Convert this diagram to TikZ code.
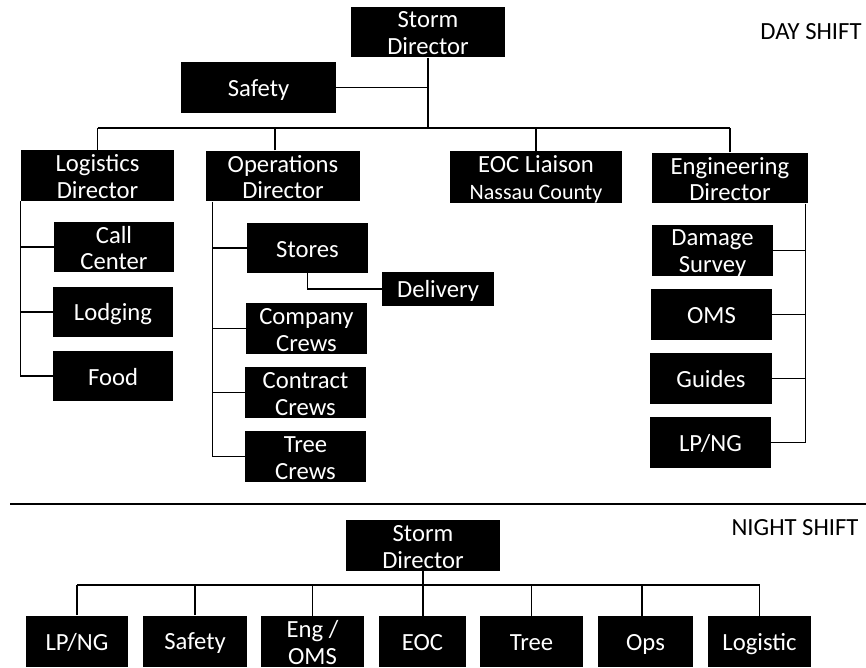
\documentclass[tikz,border=0pt]{standalone}
\usepackage{fontspec}
\setmainfont{Carlito}
\newcommand\bts{\rule{0pt}{16pt}}
\newcommand\bbs{\rule[-2pt]{0pt}{2pt}}
\begin{document}
\begin{tikzpicture}[x=0.75pt,y=-0.75pt,
  orgbox/.style={fill=black,text=white,inner sep=0pt,align=center,
    font=\fontsize{18.5}{20}\selectfont},
  wh/.style 2 args={minimum width=#1*0.75pt,minimum height=#2*0.75pt},
  conn/.style={draw=black,line width=1pt},
  shiftlbl/.style={inner sep=0pt,font=\fontsize{18.5}{20}\selectfont}]
\useasboundingbox (0,0) rectangle (866,667);
% ---------------- DAY SHIFT ----------------
\node[orgbox,wh={154}{50}] (sd) at (428,32) {\bts Storm\\Director\bbs};
\node[orgbox,wh={155}{51}] (safety) at (258.5,87.5) {\bts Safety\bbs};
\node[orgbox,wh={153}{51}] (log) at (97.5,175.5) {\bts Logistics\\Director\bbs};
\node[orgbox,wh={154}{50}] (ops) at (283,176) {\bts Operations\\Director\bbs};
\node[orgbox,wh={172}{50}] (eoc) at (536,177) {\bts EOC Liaison\\{\fontsize{16.5}{20}\selectfont Nassau County}\bbs};
\node[orgbox,wh={156}{50}] (eng) at (730,178) {\bts Engineering\\Director\bbs};
\node[shiftlbl] (day) at (811,32) {DAY SHIFT};
% logistics children
\node[orgbox,wh={120}{50}] (cc) at (114,247) {\bts Call\\Center\bbs};
\node[orgbox,wh={120}{50}] (lodg) at (113,312) {\bts Lodging\bbs};
\node[orgbox,wh={120}{50}] (food) at (113,376) {\bts Food\bbs};
% operations children
\node[orgbox,wh={121}{50}] (stores) at (307.5,248) {\bts Stores\bbs};
\node[orgbox,wh={112}{34}] (deliv) at (438,289) {\bts Delivery\bbs};
\node[orgbox,wh={121}{51}] (ccrews) at (306.5,328.5) {\bts Company\\Crews\bbs};
\node[orgbox,wh={121}{51}] (ctcrews) at (305.5,392.5) {\bts Contract\\Crews\bbs};
\node[orgbox,wh={121}{51}] (tcrews) at (305.5,456.5) {\bts Tree\\Crews\bbs};
% engineering children
\node[orgbox,wh={121}{51}] (ds) at (712.5,250.5) {\bts Damage\\Survey\bbs};
\node[orgbox,wh={121}{51}] (oms) at (711.5,314.5) {\bts OMS\bbs};
\node[orgbox,wh={122}{51}] (guides) at (711,378.5) {\bts Guides\bbs};
\node[orgbox,wh={121}{51}] (lpng) at (710.5,442.5) {\bts LP/NG\bbs};
% day connectors
\coordinate (dbus) at (0,128);
\draw[conn] (sd.south) -- (sd.south |- dbus);
\draw[conn] (safety.east) -- (safety.east -| sd.south);
\draw[conn] (log.north |- dbus) -- (eng.north |- dbus);
\draw[conn] (log.north) -- (log.north |- dbus);
\coordinate (opstop) at ([xshift=-6pt]ops.north);
\draw[conn] (opstop) -- (opstop |- dbus);
\draw[conn] (eoc.north) -- (eoc.north |- dbus);
\draw[conn] (eng.north) -- (eng.north |- dbus);
% logistics spine
\coordinate (logsp) at (log.south west);
\draw[conn] (logsp) |- (food.west);
\draw[conn] (cc.west) -- (cc.west -| logsp);
\draw[conn] (lodg.west) -- (lodg.west -| logsp);
% operations spine
\coordinate (opssp) at ([xshift=5.25pt]ops.south west);
\draw[conn] (opssp) |- (tcrews.west);
\draw[conn] (stores.west) -- (stores.west -| opssp);
\draw[conn] (ccrews.west) -- (ccrews.west -| opssp);
\draw[conn] (ctcrews.west) -- (ctcrews.west -| opssp);
\draw[conn] (stores.south) |- (deliv.west);
% engineering spine
\coordinate (engsp) at ([xshift=-2.25pt]eng.south east);
\draw[conn] (engsp) |- (lpng.east);
\draw[conn] (ds.east) -- (ds.east -| engsp);
\draw[conn] (oms.east) -- (oms.east -| engsp);
\draw[conn] (guides.east) -- (guides.east -| engsp);
% ---------------- separator ----------------
\coordinate (sepL) at (10,504);
\coordinate (sepR) at (866,504);
\draw[conn,line width=1.2pt] (sepL) -- (sepR);
% ---------------- NIGHT SHIFT ----------------
\node[orgbox,wh={154}{51}] (nsd) at (423,545.5) {\bts Storm\\Director\bbs};
\node[shiftlbl] (night) at (795,528) {NIGHT SHIFT};
\node[orgbox,wh={102}{51}] (n1) at (77,641) {\bts LP/NG\bbs};
\node[orgbox,wh={104}{51}] (n2) at (195,641) {\bts Safety\bbs};
\node[orgbox,wh={103}{51}] (n3) at (312.5,641.5) {\bts Eng /\\OMS\bbs};
\node[orgbox,wh={87}{51}] (n4) at (422.5,641.5) {\bts EOC\bbs};
\node[orgbox,wh={103}{51}] (n5) at (531.5,641.5) {\bts Tree\bbs};
\node[orgbox,wh={95}{51}] (n6) at (645.5,641.5) {\bts Ops\bbs};
\node[orgbox,wh={103}{51}] (n7) at (759.5,641.5) {\bts Logistic\bbs};
\coordinate (nbus) at (0,585);
\draw[conn] (nsd.south) -- (nsd.south |- n4.north);
\draw[conn] (n1.north |- nbus) -- (n7.north |- nbus);
\draw[conn] (n1.north) -- (n1.north |- nbus);
\draw[conn] (n2.north) -- (n2.north |- nbus);
\draw[conn] (n3.north) -- (n3.north |- nbus);
\draw[conn] (n5.north) -- (n5.north |- nbus);
\coordinate (n6top) at ([xshift=-2.6pt]n6.north);
\draw[conn] (n6top) -- (n6top |- nbus);
\draw[conn] (n7.north) -- (n7.north |- nbus);
\end{tikzpicture}
\end{document}
